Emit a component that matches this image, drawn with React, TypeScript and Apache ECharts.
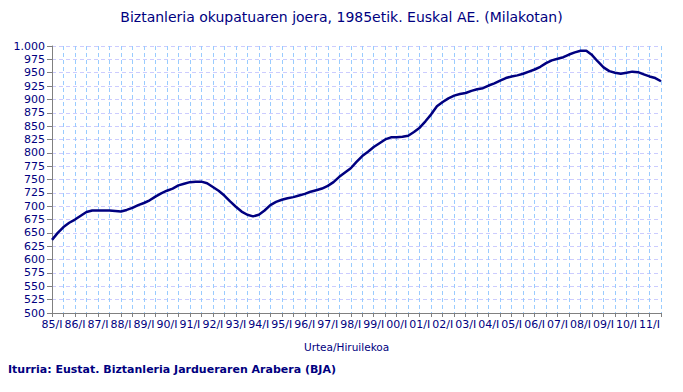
import React, { useEffect, useRef } from "react";
import * as echarts from "echarts";

const YEARS: string[] = ["85","86","87","88","89","90","91","92","93","94","95","96","97","98","99","00","01","02","03","04","05","06","07","08","09","10","11"];
const QUARTERS: string[] = ["I", "II", "III", "IV"];
const CATEGORIES: string[] = YEARS.flatMap((y) => QUARTERS.map((q) => `${y}/${q}`)).slice(0, 107);

const EMPLOYED: number[] = [
  637, 650, 661, 669, 675, 682, 689, 692, 692, 692,
  692, 691, 690, 693, 697, 702, 706, 711, 718, 724,
  729, 733, 739, 742, 745, 746, 746, 743, 736, 729,
  720, 709, 699, 690, 684, 681, 684, 692, 702, 708,
  712, 715, 717, 720, 723, 727, 730, 733, 738, 745,
  755, 763, 771, 783, 794, 802, 811, 818, 825, 829,
  829, 830, 832, 839, 847, 859, 872, 887, 895, 902,
  907, 910, 912, 916, 919, 921, 926, 930, 935, 940,
  943, 945, 948, 952, 956, 961, 968, 973, 976, 979,
  984, 988, 991, 991, 983, 971, 960, 953, 950, 948,
  950, 952, 951, 947, 943, 940, 934,
];

const TITLE = "Biztanleria okupatuaren joera, 1985etik. Euskal AE. (Milakotan)";
const X_NAME = "Urtea/Hiruilekoa";
const SOURCE = "Iturria: Eustat. Biztanleria Jardueraren Arabera (BJA)";

const FONT = "DejaVu Sans, Verdana, sans-serif";
const NAVY = "#000080";

export default function App() {
  const ref = useRef<HTMLDivElement>(null);
  useEffect(() => {
    document.body.style.margin = "0";
    if (!ref.current) return;
    const chart = echarts.init(ref.current, null, { renderer: "svg" });
    chart.setOption({
      animation: false,
      backgroundColor: "#ffffff",
      title: {
        text: TITLE,
        left: "center",
        top: 5,
        textStyle: { fontFamily: FONT, fontSize: 14, fontWeight: "normal", color: NAVY },
      },
      grid: { left: 52, top: 46, right: 22, bottom: 79, containLabel: false },
      xAxis: {
        type: "category",
        data: CATEGORIES,
        boundaryGap: false,
        axisLine: { lineStyle: { color: "#808080", width: 1 } },
        axisTick: { show: true, interval: 1, length: 4, lineStyle: { color: "#808080" } },
        axisLabel: {
          interval: 3,
          color: NAVY,
          fontFamily: FONT,
          fontSize: 11,
          margin: 6,
        },
        splitLine: {
          show: true,
          interval: 1,
          lineStyle: { color: "#99ccff", type: [4, 3], width: 1 },
        },
      },
      yAxis: {
        type: "value",
        min: 500,
        max: 1000,
        interval: 25,
        axisLine: { show: true, lineStyle: { color: "#808080", width: 1 } },
        axisTick: { show: true, length: 5, lineStyle: { color: "#808080" } },
        axisLabel: {
          color: NAVY,
          fontFamily: FONT,
          fontSize: 11,
          margin: 7,
          formatter: (v: number) => (v >= 1000 ? "1.000" : String(v)),
        },
        splitLine: {
          show: true,
          lineStyle: { color: "#ccccff", type: [4, 3], width: 1 },
        },
      },
      series: [
        {
          type: "line",
          data: EMPLOYED,
          showSymbol: false,
          smooth: false,
          lineStyle: { color: NAVY, width: 2.5 },
          z: 5,
        },
      ],
      graphic: [
        {
          type: "text",
          left: 304,
          top: 341,
          style: { text: X_NAME, fill: NAVY, font: `10.5px ${FONT}` },
        },
        {
          type: "text",
          left: 8,
          top: 364,
          style: { text: SOURCE, fill: NAVY, font: `bold 11px ${FONT}` },
        },
      ],
    });
    return () => chart.dispose();
  }, []);
  return <div ref={ref} style={{ position: "absolute", left: 0, top: 0, width: 683, height: 392 }} />;
}
